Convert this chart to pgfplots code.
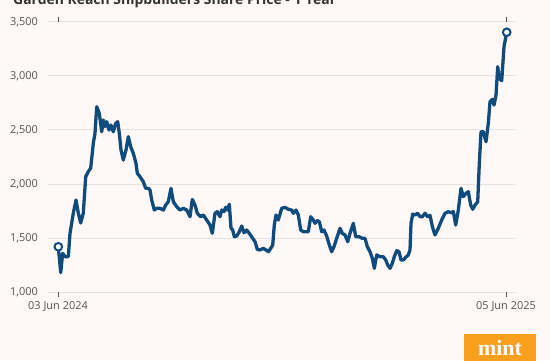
\documentclass[border=0pt]{standalone}
\usepackage{pgfplots}
\pgfplotsset{compat=1.18}
\usepackage{fontspec}
\setmainfont{Open Sans}
\newfontfamily\mintfont{Liberation Serif}
\definecolor{bg}{HTML}{FFF8F7}
\definecolor{linec}{HTML}{0F4C7D}
\definecolor{gridc}{HTML}{E6E2E2}
\definecolor{lab}{HTML}{555555}
\definecolor{titlec}{HTML}{333333}
\definecolor{mintor}{HTML}{F99F1E}
\pgfplotstableread{
x y
58.3 1419
60.7 1179
62.7 1358
65 1327
68.3 1327
70 1543
73.3 1729
76 1852
78.3 1731
80.7 1639
83.3 1731
85.7 2068
88.3 2114
90.7 2148
93.3 2377
95 2469
96.7 2716
99.3 2654
101.7 2484
103.3 2593
105 2531
106.7 2577
109 2500
111 2546
113.3 2484
115.7 2562
117.7 2577
119.3 2469
121 2315
123.3 2222
126 2315
128.3 2438
130.7 2345
133.3 2284
136 2191
137.3 2099
140 2068
143.3 2021
145.7 1960
148.3 1960
150 1944
151.7 1852
154.3 1759
156.7 1775
160 1775
163.3 1759
165.7 1805
168.3 1836
171 1960
173.3 1836
176.7 1790
180 1759
183.3 1775
186.7 1759
190 1697
192.3 1857
195 1805
197.3 1729
200.7 1697
203.3 1713
206.7 1667
210 1620
212.3 1543
215 1729
217.3 1744
220 1697
221.7 1759
224 1744
225.7 1784
227.3 1759
229.3 1812
231 1590
232.7 1574
234.3 1512
236.7 1518
239.3 1558
241.7 1611
244 1549
246.7 1574
249.3 1543
252.7 1497
255 1466
257.3 1395
260 1389
263.3 1404
266 1389
268.3 1373
270.7 1404
272.7 1435
274.3 1620
276 1713
278.3 1667
281.7 1775
285 1784
288.3 1766
291.7 1759
293.3 1729
296 1759
298.3 1713
300.7 1574
303.3 1558
308.3 1558
310.7 1697
313.3 1667
315 1636
317.3 1662
319.3 1651
321.7 1558
324 1574
326.7 1518
329.3 1435
331.7 1373
334 1420
337.5 1520
340 1590
342.3 1543
345 1528
347.7 1466
350 1543
353.3 1636
355.7 1512
359 1512
362.3 1497
365 1497
367.3 1420
370 1373
372.3 1312
374.3 1219
376.7 1343
380 1327
383.3 1327
385.7 1296
387.7 1250
390 1219
392.3 1265
394.3 1327
396.7 1382
399 1373
401 1296
403.3 1296
405.7 1321
408.3 1343
410 1389
411 1636
412.7 1722
415 1713
417.7 1729
420 1697
422.3 1697
425 1729
427.7 1697
430 1710
432.5 1600
435 1528
438.3 1590
441.7 1667
445 1729
448.3 1744
450.7 1734
453.3 1744
455.7 1620
458.3 1759
461 1960
463.3 1883
466 1914
468.3 1929
470.7 1805
472.7 1766
475 1805
477.7 1836
479.3 2191
481 2484
483.3 2484
486 2391
488.3 2562
490 2762
492.3 2784
494 2731
496 2824
497.7 3086
499.3 2978
501.7 2957
504 3272
506.7 3405
}\pricedata
\begin{document}
\begin{tikzpicture}[x=1bp,y=1bp]
\fill[bg] (0,0) rectangle (550,360);
\useasboundingbox (0,0) rectangle (550,360);
\node[anchor=base west, inner sep=0pt, text=titlec, font=\bfseries\fontsize{14}{16}\selectfont] at (13,356) {Garden Reach Shipbuilders Share Price - 1 Year};
\begin{axis}[
  at={(48bp,68bp)}, anchor=south west,
  scale only axis, width=467bp, height=270bp,
  xmin=48, xmax=515, ymin=1000, ymax=3500,
  axis line style={draw=none},
  ytick={1000,1500,2000,2500,3000,3500},
  ymajorgrids, grid style={gridc, line width=1bp},
  xtick={58,506}, xticklabels={03 Jun 2024,05 Jun 2025},
  tick align=outside, major tick length=5bp,
  ytick style={draw=none},
  xtick style={draw=lab, line width=0.8bp},
  tick label style={font=\fontsize{11}{13}\selectfont, text=lab},
  yticklabel style={anchor=east, xshift=-1.5bp},
  xticklabel style={anchor=north, yshift=-1bp},
  /pgf/number format/assume math mode=true,
  /pgf/number format/.cd, 1000 sep={,},
]
\addplot[linec, line width=3.3bp, line join=round, line cap=round] table[x=x,y=y] {\pricedata};
\addplot[only marks, mark=*, mark size=3.8bp, mark options={fill=white, draw=linec, line width=2bp}] coordinates {(58.3,1419) (506.7,3405)};
\end{axis}
\node[fill=mintor, minimum width=72bp, minimum height=34bp, anchor=north west, inner sep=0pt] (logo) at (464,26) {};
\node[anchor=base, inner sep=0pt, text=white, font=\mintfont\bfseries\fontsize{22}{24}\selectfont] at (500,5) {mint};
\end{tikzpicture}
\end{document}
